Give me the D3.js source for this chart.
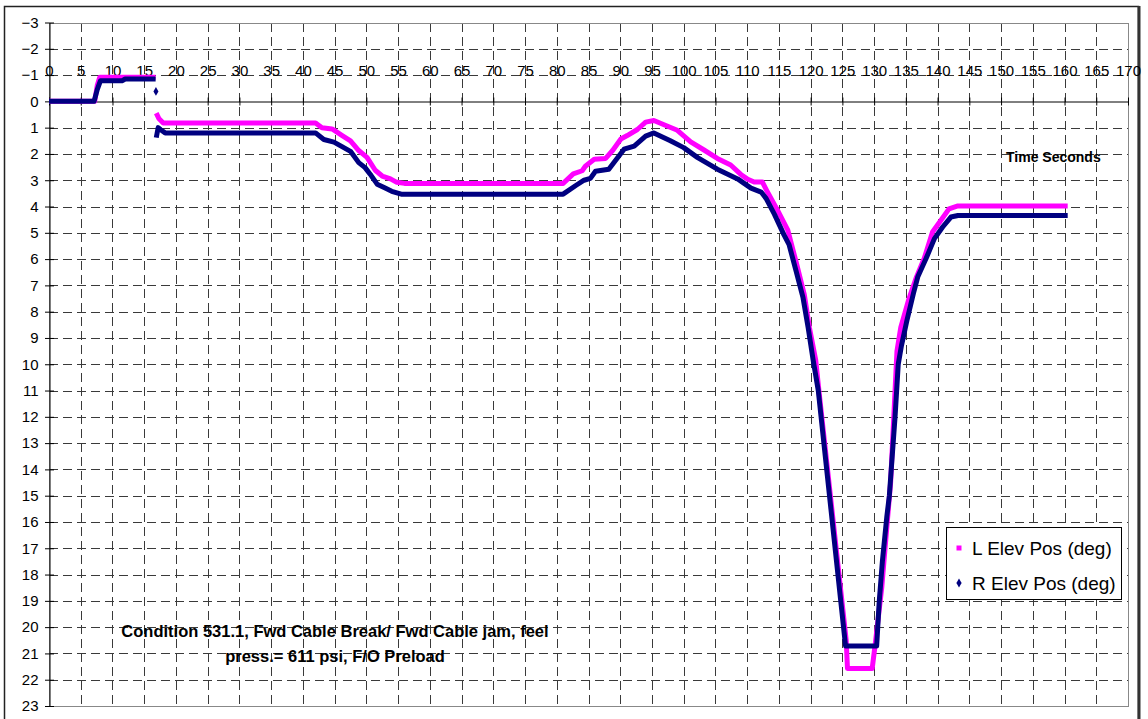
<!DOCTYPE html>
<html>
<head>
<meta charset="utf-8">
<script src="https://cdn.jsdelivr.net/npm/d3@7"></script>
<style>
  html, body { margin: 0; padding: 0; background: #fff; }
  svg { display: block; font-family: "Liberation Sans", Arial, sans-serif; }
</style>
</head>
<body>
<div id="chart"></div>
<script>
  // time (s) and position (deg); null breaks the trace
  const lElevTime = [0, 7.2, 7.6, 8.0, 16.8, null, 16.9, 17.3, 18.0, 42.0, 43.0, 44.6, 46.2, 47.5, 48.8, 50.1, 51.4, 52.5, 53.8, 54.8, 56.0,
    81.0, 82.6, 84.0, 84.5, 85.9, 87.7, 88.8, 90.1, 91.1, 92.7, 94.0, 95.3, 96.9, 99.0, 101.1, 103.2, 105.3, 107.4, 109.0, 110.0,
    111.1, 112.4, 113.2, 114.8, 116.4, 117.7, 119.0, 119.8, 120.8, 121.3, 125.6, 125.8, 129.7, 130.2, 131.2, 132.0, 132.6, 133.2,
    133.6, 134.2, 135.5, 136.6, 137.9, 139.2, 140.5, 141.8, 143.2, 160.5];
  const lElevPos = [0, 0, -0.6, -0.92, -0.92, null, 0.45, 0.65, 0.82, 0.82, 1.0, 1.05, 1.3, 1.5, 1.87, 2.13, 2.62, 2.84, 2.95, 3.08, 3.12,
    3.12, 2.76, 2.64, 2.47, 2.2, 2.17, 1.87, 1.43, 1.3, 1.07, 0.79, 0.73, 0.89, 1.1, 1.54, 1.85, 2.17, 2.42, 2.78, 2.95,
    3.07, 3.07, 3.45, 4.15, 4.9, 6.1, 7.35, 8.6, 9.85, 11.0, 20.5, 21.57, 21.57, 20.6, 18.5, 16.2, 14.5, 11.5,
    9.5, 8.6, 7.5, 6.73, 5.97, 4.97, 4.53, 4.09, 3.98, 3.98];

  const rElevTime = [0, 7.1, 7.6, 8.1, 11.5, 12.0, 16.8, null, 16.9, 17.2, 17.6, 18.3, 42.0, 43.3, 44.9, 47.5, 48.8, 49.8, 50.6, 51.7,
    52.8, 54.0, 55.5, 81.0, 83.0, 84.3, 85.3, 86.1, 88.2, 90.6, 92.2, 94.0, 95.3, 97.9, 100.0, 102.2, 105.3, 108.5, 110.6, 112.2,
    113.0, 114.3, 115.8, 116.6, 117.7, 118.8, 119.6, 120.4, 121.2, 125.5, 130.4, 130.8, 131.3, 132.0, 132.4, 133.3, 133.8, 134.3,
    135.2, 136.2, 136.9, 138.2, 139.5, 140.8, 142.1, 143.2, 160.5];
  const rElevPos = [0, 0, -0.45, -0.78, -0.78, -0.85, -0.85, null, 1.38, 1.0, 1.08, 1.2, 1.2, 1.45, 1.55, 1.9, 2.33, 2.52, 2.77, 3.15,
    3.28, 3.42, 3.53, 3.53, 3.2, 3.0, 2.93, 2.66, 2.58, 1.82, 1.7, 1.32, 1.2, 1.5, 1.76, 2.14, 2.58, 2.95, 3.3, 3.45,
    3.7, 4.3, 5.08, 5.45, 6.45, 7.47, 8.6, 9.85, 11.0, 20.72, 20.72, 19.05, 17.5, 15.8, 15.0, 12.0, 10.0, 9.3,
    8.3, 7.3, 6.66, 5.97, 5.22, 4.78, 4.4, 4.34, 4.34];
  // stray sample at the cable break
  const rStrayTime = [16.85];
  const rStrayPos = [-0.38];

  const xTicks = d3.range(0, 171, 5);
  const yTicks = d3.range(-3, 24, 1);
  const seriesNames = ["L Elev Pos (deg)", "R Elev Pos (deg)"];
  const seriesColors = ["#FF00FF", "#000080"];
  const axisTitle = "Time Seconds";
  const noteLines = ["Condition 531.1, Fwd Cable Break/ Fwd Cable jam, feel", "press.= 611 psi, F/O Preload"];

  const width = 1148;
  const height = 719;
  const plot = { left: 49, right: 1128, top: 22.5, bottom: 706 };

  const svg = d3.select("#chart").append("svg").attr("width", width).attr("height", height);

  // outer chart frame
  svg.append("rect").attr("x", 4.5).attr("y", 6.5).attr("width", 1134).attr("height", 740)
    .attr("fill", "#fff").attr("stroke", "#222").attr("stroke-width", 1.5);
  svg.append("line").attr("x1", 1139).attr("x2", 1139).attr("y1", 6).attr("y2", height)
    .attr("stroke", "#333").attr("stroke-width", 3);

  const x = d3.scaleLinear().domain([0, 170]).range([plot.left, plot.right]);
  const y = d3.scaleLinear().domain([-3, 23]).range([plot.top, plot.bottom]);

  // dashed grid
  const grid = svg.append("g").attr("stroke", "#3a3a3a").attr("stroke-width", 1).attr("stroke-dasharray", "9,5").attr("shape-rendering", "crispEdges");
  grid.selectAll("line.h").data(yTicks.filter((v) => v > -3 && v < 23 && v !== 0)).join("line")
    .attr("class", "h").attr("x1", plot.left).attr("x2", plot.right)
    .attr("y1", (d) => Math.round(y(d)) + 0.5).attr("y2", (d) => Math.round(y(d)) + 0.5);
  grid.selectAll("line.v").data(xTicks.filter((v) => v > 0 && v < 170)).join("line")
    .attr("class", "v").attr("y1", plot.top).attr("y2", plot.bottom)
    .attr("x1", (d) => Math.round(x(d)) + 0.5).attr("x2", (d) => Math.round(x(d)) + 0.5);

  // plot border
  svg.append("rect").attr("x", plot.left + 0.5).attr("y", Math.round(plot.top) + 0.5)
    .attr("width", plot.right - plot.left).attr("height", plot.bottom - Math.round(plot.top))
    .attr("fill", "none").attr("stroke", "#888").attr("stroke-width", 1).attr("shape-rendering", "crispEdges");

  // y axis
  svg.append("g").attr("transform", `translate(${plot.left + 0.5},0)`)
    .call(d3.axisLeft(y).tickValues(yTicks).tickSize(0).tickPadding(11).tickFormat(d3.format("d")))
    .call((axis) => axis.select(".domain").attr("stroke", "#000"))
    .call((axis) => axis.selectAll(".tick text").attr("font-size", 15).attr("fill", "#000").attr("font-family", null))
    .call((axis) => axis.selectAll(".tick").append("line").attr("x1", -4.5).attr("x2", 4.5).attr("stroke", "#000"));

  // x axis crosses at zero, labels sit above it
  svg.append("g").attr("transform", `translate(0,${Math.round(y(0)) + 0.5})`)
    .call(d3.axisTop(x).tickValues(xTicks).tickSize(0).tickPadding(26).tickFormat(d3.format("d")))
    .call((axis) => axis.select(".domain").attr("stroke", "#000"))
    .call((axis) => axis.selectAll(".tick text").attr("font-size", 15).attr("fill", "#000").attr("font-family", null))
    .call((axis) => axis.selectAll(".tick").append("line").attr("y1", -4).attr("y2", 4).attr("stroke", "#000"));

  const line = d3.line()
    .defined((d) => d.v != null)
    .x((d) => x(d.t))
    .y((d) => y(d.v));

  const toPoints = (times, values) => times.map((t, i) => ({ t, v: values[i] }));
  const series = [toPoints(lElevTime, lElevPos), toPoints(rElevTime, rElevPos)];

  svg.append("g").selectAll("path").data(series).join("path")
    .attr("fill", "none")
    .attr("stroke", (d, i) => seriesColors[i])
    .attr("stroke-width", 5)
    .attr("stroke-linejoin", "round")
    .attr("d", (d) => line(d));

  svg.append("g").selectAll("path").data(toPoints(rStrayTime, rStrayPos)).join("path")
    .attr("transform", (d) => `translate(${x(d.t)},${y(d.v)})`)
    .attr("d", d3.symbol(d3.symbolDiamond, 22))
    .attr("fill", seriesColors[1]);

  svg.append("text").attr("x", 1006).attr("y", 162)
    .attr("font-size", 14).attr("font-weight", "bold").attr("fill", "#000")
    .text(axisTitle);

  svg.append("g").selectAll("text").data(noteLines).join("text")
    .attr("x", 335).attr("y", (d, i) => 637 + i * 25)
    .attr("text-anchor", "middle").attr("font-size", 16.5).attr("font-weight", "bold").attr("fill", "#000")
    .text((d) => d);

  // legend
  const legend = svg.append("g");
  legend.append("rect").attr("x", 946.5).attr("y", 527.5).attr("width", 175).attr("height", 72)
    .attr("fill", "#fff").attr("stroke", "#000").attr("stroke-width", 1);
  const entries = legend.selectAll("g").data(seriesNames).join("g")
    .attr("transform", (d, i) => `translate(959,${548 + i * 35})`);
  entries.append("path")
    .attr("d", (d, i) => d3.symbol(i === 0 ? d3.symbolSquare : d3.symbolDiamond, i === 0 ? 25 : 24)())
    .attr("fill", (d, i) => seriesColors[i]);
  entries.append("text").attr("x", 13).attr("dy", "0.35em")
    .attr("font-size", 19).attr("fill", "#000")
    .text((d) => d);
</script>
</body>
</html>
